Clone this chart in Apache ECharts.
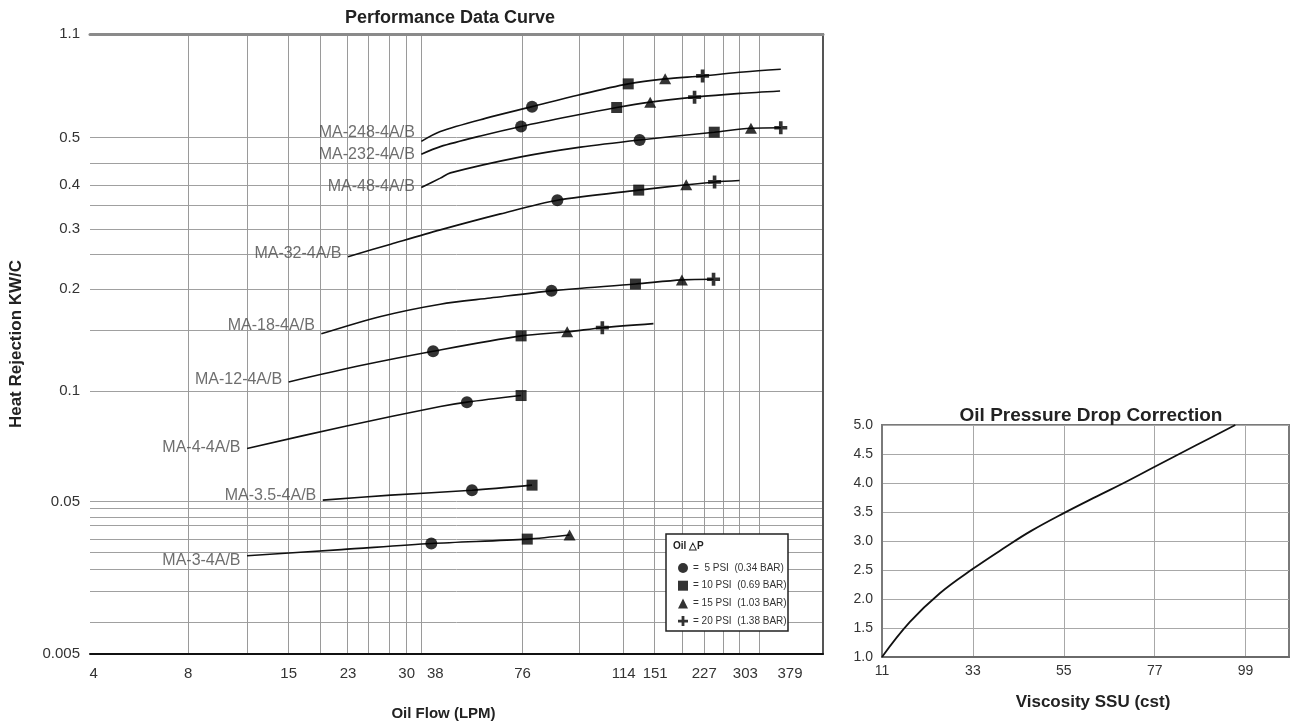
<!DOCTYPE html>
<html>
<head>
<meta charset="utf-8">
<script src="https://cdn.jsdelivr.net/npm/echarts@6/dist/echarts.min.js"></script>
<style>html,body{margin:0;padding:0;background:#fff}#chart{width:1290px;height:726px}</style>
</head>
<body>
<div id="chart"></div>
<script>
(function(){
    var myChart = echarts.init(document.getElementById('chart'));

    // tick labels as printed on the sheet
    var flowTicks = [4, 8, 15, 23, 30, 38, 76, 114, 151, 227, 303, 379];
    var heatTicks = [1.1, 0.5, 0.4, 0.3, 0.2, 0.1, 0.05, 0.005];
    var viscTicks = [11, 33, 55, 77, 99];

    // model curves, [LPM, KW/C]
    var ma248 = [[34.1,0.492],[40.2,0.535],[59.8,0.611],[79.6,0.679],[97.1,0.747],[119.4,0.811],[166.5,0.840],[224.4,0.857],[299.3,0.880],[363.3,0.896]];
    var ma232 = [[34.1,0.465],[40.2,0.481],[57.7,0.509],[75.4,0.564],[94.1,0.623],[111.4,0.674],[145.2,0.705],[212.0,0.734],[293.7,0.756],[362.1,0.770]];
    var ma48  = [[34.1,0.395],[40.2,0.415],[44.6,0.426],[75.9,0.460],[97.8,0.480],[132.8,0.495],[245.5,0.531],[312.6,0.554],[363.3,0.557]];
    var ma32  = [[23.0,0.254],[28.1,0.275],[40.2,0.299],[66.4,0.335],[89.1,0.366],[131.7,0.389],[199.1,0.401],[246.1,0.407],[292.4,0.410]];
    var ma18  = [[19.4,0.156],[26.9,0.173],[40.2,0.185],[62.0,0.191],[86.9,0.198],[127.9,0.208],[192.4,0.215],[244.2,0.216]];
    var ma12  = [[15.0,0.109],[24.5,0.125],[37.4,0.139],[75.4,0.154],[92.8,0.158],[106.0,0.162],[149.0,0.166]];
    var ma4   = [[12.1,0.074],[22.5,0.084],[40.2,0.093],[51.8,0.095],[75.4,0.098]];
    var ma35  = [[19.6,0.0506],[28.1,0.0529],[54.0,0.0551],[79.6,0.0574]];
    var ma3   = [[12.1,0.0340],[22.1,0.0358],[36.9,0.0376],[77.8,0.0389],[93.7,0.0401]];

    // oil pressure drop markers, [LPM, KW/C]
    var psi5  = [[79.6,0.679],[75.4,0.564],[132.8,0.495],[89.1,0.366],[86.9,0.198],[37.4,0.139],[51.8,0.095],[54.0,0.0551],[36.9,0.0376]];
    var psi10 = [[119.4,0.811],[111.4,0.674],[245.5,0.531],[131.7,0.389],[127.9,0.208],[75.4,0.154],[75.4,0.098],[79.6,0.0574],[77.8,0.0389]];
    var psi15 = [[166.5,0.840],[145.2,0.705],[312.6,0.554],[199.1,0.401],[192.4,0.215],[92.8,0.158],[93.7,0.0401]];
    var psi20 = [[224.4,0.857],[212.0,0.734],[363.3,0.557],[246.1,0.407],[244.2,0.216],[106.0,0.162]];

    // pressure drop correction
    var viscSSU = [11, 17.7, 25, 33, 41, 47, 55, 63, 69.5, 77, 87, 96.5];
    var factor  = [1.0, 1.6, 2.1, 2.52, 2.9, 3.17, 3.48, 3.77, 4.0, 4.28, 4.65, 5.0];

    var models = [
        { name: 'MA-248-4A/B', data: ma248 },
        { name: 'MA-232-4A/B', data: ma232 },
        { name: 'MA-48-4A/B',  data: ma48 },
        { name: 'MA-32-4A/B',  data: ma32 },
        { name: 'MA-18-4A/B',  data: ma18 },
        { name: 'MA-12-4A/B',  data: ma12 },
        { name: 'MA-4-4A/B',   data: ma4 },
        { name: 'MA-3.5-4A/B', data: ma35 },
        { name: 'MA-3-4A/B',   data: ma3 }
    ];

    // the printed scale is uneven: where each tick sits, in % of the axis length
    var flowTickAt = [0.5, 13.4, 27.1, 35.2, 43.2, 47.1, 59.0, 72.8, 77.1, 83.8, 89.4, 95.5];
    var heatTickAt = [100, 83.3, 75.6, 68.5, 58.9, 42.4, 24.6, 0];
    var flowGridAt = [13.35, 21.39, 27.11, 31.47, 35.15, 38.01, 40.87, 43.19, 45.23, 58.99, 66.76, 72.75, 76.98, 80.79, 83.79, 86.38, 88.56, 91.28];
    var heatGridAt = [83.3, 79.2, 75.6, 72.3, 68.5, 64.4, 58.9, 52.2, 42.4, 24.6, 23.5, 22.1, 20.7, 18.5, 16.4, 13.7, 10.2, 5.1];
    var nameOffset = [[0,-9],[0,0],[0,-1],[0,-3],[0,-8],[0,-2],[0,-1],[0,-5],[0,5]];

    function interp(v, from, to) {
        for (var i = 0; i < from.length - 1; i++) {
            var a = from[i], b = from[i + 1];
            if ((v >= Math.min(a, b) && v <= Math.max(a, b)) || i === from.length - 2) {
                return to[i] + (v - a) / (b - a) * (to[i + 1] - to[i]);
            }
        }
    }
    function pt(p) {
        return [interp(p[0], flowTicks, flowTickAt), interp(p[1], heatTicks, heatTickAt)];
    }
    function tickText(list, at) {
        return function (v) {
            for (var i = 0; i < at.length; i++) {
                if (Math.abs(at[i] - v) < 0.01) return String(list[i]);
            }
            return '';
        };
    }

    var font = 'Liberation Sans, Arial, sans-serif';
    var crossPath = 'path://M36,0H64V36H100V64H64V100H36V64H0V36H36Z';

    var series = [];
    models.forEach(function (m) {
        series.push({
            type: 'line', name: m.name,
            data: m.data.map(pt),
            smooth: 0.3, showSymbol: false, symbol: 'none', silent: true,
            lineStyle: { color: '#111', width: 1.6 }
        });
    });
    series.push({
        type: 'scatter', name: 'models', silent: true,
        symbolSize: 1, itemStyle: { color: 'transparent' },
        data: models.map(function (m, i) {
            return { name: m.name, value: pt(m.data[0]), label: { offset: nameOffset[i] } };
        }),
        label: {
            show: true, position: 'left', distance: 6, formatter: '{b}',
            fontSize: 16, color: '#4a4a4a', fontFamily: font
        },
        z: 3
    });

    var markers = [
        { name: '=  5 PSI  (0.34 BAR)', data: psi5,  symbol: 'circle',   size: 12 },
        { name: '= 10 PSI  (0.69 BAR)', data: psi10, symbol: 'rect',     size: 11 },
        { name: '= 15 PSI  (1.03 BAR)', data: psi15, symbol: 'triangle', size: [12, 11] },
        { name: '= 20 PSI  (1.38 BAR)', data: psi20, symbol: crossPath,  size: 13 }
    ];
    markers.forEach(function (m) {
        series.push({
            type: 'scatter', name: m.name, data: m.data.map(pt),
            symbol: m.symbol, symbolSize: m.size, silent: true,
            itemStyle: { color: '#000' }, z: 4
        });
    });

    series.push({
        type: 'line', name: 'correction', xAxisIndex: 2, yAxisIndex: 2,
        data: viscSSU.map(function (v, i) { return [v, factor[i]]; }),
        smooth: 0.4, showSymbol: false, symbol: 'none', silent: true,
        lineStyle: { color: '#111', width: 1.8 }
    });

    var option = {
        animation: false,
        backgroundColor: '#fff',
        textStyle: { fontFamily: font },
        title: [
            { text: 'Performance Data Curve', left: 445, top: 4, textAlign: 'center',
              textStyle: { fontSize: 18, fontWeight: 'bold', color: '#222', fontFamily: font } },
            { text: 'Oil Pressure Drop Correction', left: 1086, top: 401, textAlign: 'center',
              textStyle: { fontSize: 19, fontWeight: 'bold', color: '#222', fontFamily: font } }
        ],
        grid: [
            { left: 89, right: 467, top: 34, bottom: 71 },
            { left: 882, right: 1, top: 425, bottom: 69, show: true, borderColor: '#7a7a7a', borderWidth: 2 }
        ],
        legend: {
            left: 673, top: 558, orient: 'vertical', itemWidth: 10, itemHeight: 10, itemGap: 7.7,
            data: markers.map(function (m) { return m.name; }),
            textStyle: { fontSize: 10, color: '#333', fontFamily: font },
            selectedMode: false, z: 20
        },
        graphic: [
            { type: 'rect', z: 10, shape: { x: 666, y: 534, width: 122, height: 97 },
              style: { fill: '#fff', stroke: '#222', lineWidth: 1.5 } },
            { type: 'text', z: 11, x: 673, y: 541,
              style: { text: 'Oil △P', fontSize: 10, fontWeight: 'bold', fill: '#222', fontFamily: font } }
        ],
        xAxis: [
            {
                type: 'value', gridIndex: 0, min: 0, max: 100, position: 'bottom',
                name: 'Oil Flow (LPM)', nameLocation: 'middle', nameGap: 52,
                nameTextStyle: { fontSize: 15, fontWeight: 'bold', color: '#222', padding: [0, 26, 0, 0] },
                axisLine: { show: true, onZero: false, lineStyle: { color: '#111', width: 2 } },
                axisTick: { show: false, customValues: flowGridAt },
                axisLabel: { customValues: flowTickAt, formatter: tickText(flowTicks, flowTickAt),
                             fontSize: 15, color: '#333', margin: 12 },
                splitLine: { show: true, lineStyle: { color: '#9a9a9a', width: 1 } }
            },
            {
                type: 'value', gridIndex: 0, min: 0, max: 100, position: 'top',
                axisLine: { show: true, onZero: false, lineStyle: { color: '#8a8a8a', width: 3 } },
                axisTick: { show: false }, axisLabel: { show: false }, splitLine: { show: false }
            },
            {
                type: 'value', gridIndex: 1, min: 11, max: 109.5,
                name: 'Viscosity SSU (cst)', nameLocation: 'middle', nameGap: 37,
                nameTextStyle: { fontSize: 17, fontWeight: 'bold', color: '#222', padding: [0, 0, 0, 15] },
                axisLine: { show: true, onZero: false, lineStyle: { color: '#6a6a6a', width: 2 } },
                axisTick: { show: false, customValues: viscTicks },
                axisLabel: { customValues: viscTicks, fontSize: 14, color: '#333', margin: 7 },
                splitLine: { show: true, lineStyle: { color: '#a8a8a8', width: 1 } }
            }
        ],
        yAxis: [
            {
                type: 'value', gridIndex: 0, min: 0, max: 100,
                name: 'Heat Rejection KW/C', nameLocation: 'middle', nameGap: 65, nameRotate: 90,
                nameTextStyle: { fontSize: 17, fontWeight: 'bold', color: '#222' },
                axisLine: { show: false, onZero: false },
                axisTick: { show: false, customValues: heatGridAt },
                axisLabel: { customValues: heatTickAt, formatter: tickText(heatTicks, heatTickAt),
                             fontSize: 15, color: '#333', margin: 10 },
                splitLine: { show: true, lineStyle: { color: '#a0a0a0', width: 1 } }
            },
            {
                type: 'value', gridIndex: 0, min: 0, max: 100, position: 'right',
                axisLine: { show: true, onZero: false, lineStyle: { color: '#555', width: 2 } },
                axisTick: { show: false }, axisLabel: { show: false }, splitLine: { show: false }
            },
            {
                type: 'value', gridIndex: 1, min: 1, max: 5, interval: 0.5,
                axisLine: { show: true, onZero: false, lineStyle: { color: '#7a7a7a', width: 2 } },
                axisTick: { show: false },
                axisLabel: { fontSize: 14, color: '#333', margin: 9,
                             formatter: function (v) { return v.toFixed(1); } },
                splitLine: { show: true, lineStyle: { color: '#a8a8a8', width: 1 } }
            }
        ],
        series: series
    };

    myChart.setOption(option);
})()
</script>
</body>
</html>
